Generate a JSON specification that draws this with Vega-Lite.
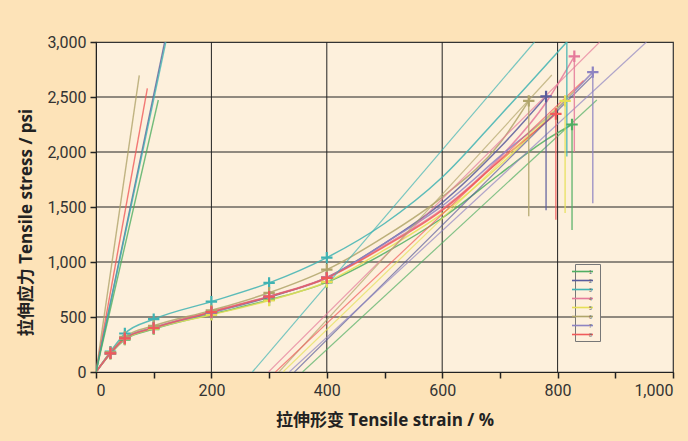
{
  "$schema": "https://vega.github.io/schema/vega-lite/v6.json",
  "autosize": "none",
  "width": 577,
  "height": 330,
  "padding": {"left": 96, "top": 42, "right": 15, "bottom": 69},
  "background": "#fde3b8",
  "config": {
    "view": {"fill": "#fdf0dc", "stroke": "#333", "strokeWidth": 1.2},
    "axis": {"grid": false, "labelFont": "Roboto", "labelFontSize": 16, "labelColor": "#333", "titleFont": "Open Sans, Noto Sans CJK SC", "titleFontSize": 17, "titleFontWeight": "bold", "titleColor": "#222", "domainColor": "#222", "tickColor": "#222", "tickSize": 6, "tickWidth": 1.5},
    "legend": {"orient": "none", "legendX": 479, "legendY": 222, "symbolType": "M-3,0H3", "symbolSize": 49, "symbolStrokeWidth": 1.6, "symbolOpacity": 1, "labelFontSize": 5, "labelColor": "#666", "rowPadding": 1, "padding": 3, "strokeColor": "#777", "fillColor": "#fdf0dc", "labelOffset": 2}
  },
  "data": {"values": [
    {"k":"gx","x":200},{"k":"gx","x":400},{"k":"gx","x":600},{"k":"gx","x":800},
    {"k":"gy","y":500},{"k":"gy","y":1000},{"k":"gy","y":1500},{"k":"gy","y":2000},{"k":"gy","y":2500},
    {"k":"f","s":"1","x":358,"y":0},{"k":"f","s":"1","x":868,"y":2473},
    {"k":"f","s":"2","x":344,"y":0},{"k":"f","s":"2","x":862,"y":2700},
    {"k":"f","s":"3","x":271,"y":0},{"k":"f","s":"3","x":760,"y":3000},
    {"k":"f","s":"4","x":299,"y":0},{"k":"f","s":"4","x":873,"y":3000},
    {"k":"f","s":"5","x":324,"y":0},{"k":"f","s":"5","x":830,"y":2560},
    {"k":"f","s":"6","x":317,"y":0},{"k":"f","s":"6","x":790,"y":2700},
    {"k":"f","s":"7","x":335,"y":0},{"k":"f","s":"7","x":954,"y":3000},
    {"k":"f","s":"8","x":311,"y":0},{"k":"f","s":"8","x":845,"y":2650},
    {"k":"i","s":"6","x":0,"y":0},{"k":"i","s":"6","x":75,"y":2697},
    {"k":"i","s":"8","x":0,"y":0},{"k":"i","s":"8","x":89,"y":2579},
    {"k":"i","s":"2","x":0,"y":0},{"k":"i","s":"2","x":119,"y":3000},
    {"k":"i","s":"3","x":0,"y":0},{"k":"i","s":"3","x":121,"y":3000},
    {"k":"i","s":"1","x":0,"y":0},{"k":"i","s":"1","x":108,"y":2473},
    {"k":"d","s":"1","x":825,"y":2250},{"k":"d","s":"1","x":825,"y":1290},
    {"k":"d","s":"2","x":780,"y":2505},{"k":"d","s":"2","x":780,"y":1470},
    {"k":"d","s":"3","x":816,"y":3000},{"k":"d","s":"3","x":816,"y":1960},
    {"k":"d","s":"4","x":829,"y":2870},{"k":"d","s":"4","x":829,"y":2000},
    {"k":"d","s":"5","x":813,"y":2465},{"k":"d","s":"5","x":813,"y":1445},
    {"k":"d","s":"6","x":750,"y":2465},{"k":"d","s":"6","x":750,"y":1415},
    {"k":"d","s":"7","x":861,"y":2726},{"k":"d","s":"7","x":861,"y":1535},
    {"k":"d","s":"8","x":797,"y":2346},{"k":"d","s":"8","x":797,"y":1383},

    {"k":"c","s":"1","x":0,"y":0,"m":0},{"k":"c","s":"1","x":25,"y":165,"m":1},{"k":"c","s":"1","x":50,"y":295,"m":1},{"k":"c","s":"1","x":100,"y":390,"m":1},{"k":"c","s":"1","x":200,"y":525,"m":1},{"k":"c","s":"1","x":300,"y":655,"m":1},{"k":"c","s":"1","x":400,"y":815,"m":1},{"k":"c","s":"1","x":500,"y":1080,"m":0},{"k":"c","s":"1","x":600,"y":1400,"m":0},{"k":"c","s":"1","x":700,"y":1800,"m":0},{"k":"c","s":"1","x":780,"y":2110,"m":0},{"k":"c","s":"1","x":825,"y":2250,"m":1},
    {"k":"c","s":"2","x":0,"y":0,"m":0},{"k":"c","s":"2","x":25,"y":170,"m":1},{"k":"c","s":"2","x":50,"y":305,"m":1},{"k":"c","s":"2","x":100,"y":400,"m":1},{"k":"c","s":"2","x":200,"y":540,"m":1},{"k":"c","s":"2","x":300,"y":680,"m":1},{"k":"c","s":"2","x":400,"y":860,"m":1},{"k":"c","s":"2","x":500,"y":1170,"m":0},{"k":"c","s":"2","x":600,"y":1540,"m":0},{"k":"c","s":"2","x":700,"y":2040,"m":0},{"k":"c","s":"2","x":780,"y":2505,"m":1},
    {"k":"c","s":"3","x":0,"y":0,"m":0},{"k":"c","s":"3","x":25,"y":185,"m":1},{"k":"c","s":"3","x":50,"y":350,"m":1},{"k":"c","s":"3","x":100,"y":480,"m":1},{"k":"c","s":"3","x":200,"y":640,"m":1},{"k":"c","s":"3","x":300,"y":810,"m":1},{"k":"c","s":"3","x":400,"y":1040,"m":1},{"k":"c","s":"3","x":500,"y":1350,"m":0},{"k":"c","s":"3","x":600,"y":1770,"m":0},{"k":"c","s":"3","x":700,"y":2330,"m":0},{"k":"c","s":"3","x":816,"y":3000,"m":0},
    {"k":"c","s":"4","x":0,"y":0,"m":0},{"k":"c","s":"4","x":25,"y":172,"m":1},{"k":"c","s":"4","x":50,"y":310,"m":1},{"k":"c","s":"4","x":100,"y":405,"m":1},{"k":"c","s":"4","x":200,"y":550,"m":1},{"k":"c","s":"4","x":300,"y":690,"m":1},{"k":"c","s":"4","x":400,"y":860,"m":1},{"k":"c","s":"4","x":500,"y":1150,"m":0},{"k":"c","s":"4","x":600,"y":1480,"m":0},{"k":"c","s":"4","x":700,"y":1950,"m":0},{"k":"c","s":"4","x":780,"y":2450,"m":0},{"k":"c","s":"4","x":829,"y":2870,"m":1},
    {"k":"c","s":"5","x":0,"y":0,"m":0},{"k":"c","s":"5","x":25,"y":168,"m":1},{"k":"c","s":"5","x":50,"y":300,"m":1},{"k":"c","s":"5","x":100,"y":395,"m":1},{"k":"c","s":"5","x":200,"y":520,"m":1},{"k":"c","s":"5","x":300,"y":650,"m":1},{"k":"c","s":"5","x":400,"y":820,"m":1},{"k":"c","s":"5","x":500,"y":1110,"m":0},{"k":"c","s":"5","x":600,"y":1440,"m":0},{"k":"c","s":"5","x":700,"y":1880,"m":0},{"k":"c","s":"5","x":813,"y":2465,"m":1},
    {"k":"c","s":"6","x":0,"y":0,"m":0},{"k":"c","s":"6","x":25,"y":180,"m":1},{"k":"c","s":"6","x":50,"y":320,"m":1},{"k":"c","s":"6","x":100,"y":420,"m":1},{"k":"c","s":"6","x":200,"y":560,"m":1},{"k":"c","s":"6","x":300,"y":720,"m":1},{"k":"c","s":"6","x":400,"y":930,"m":1},{"k":"c","s":"6","x":500,"y":1230,"m":0},{"k":"c","s":"6","x":600,"y":1590,"m":0},{"k":"c","s":"6","x":700,"y":2080,"m":0},{"k":"c","s":"6","x":750,"y":2465,"m":1},
    {"k":"c","s":"7","x":0,"y":0,"m":0},{"k":"c","s":"7","x":25,"y":170,"m":1},{"k":"c","s":"7","x":50,"y":305,"m":1},{"k":"c","s":"7","x":100,"y":400,"m":1},{"k":"c","s":"7","x":200,"y":540,"m":1},{"k":"c","s":"7","x":300,"y":685,"m":1},{"k":"c","s":"7","x":400,"y":855,"m":1},{"k":"c","s":"7","x":500,"y":1170,"m":0},{"k":"c","s":"7","x":600,"y":1510,"m":0},{"k":"c","s":"7","x":700,"y":1960,"m":0},{"k":"c","s":"7","x":800,"y":2400,"m":0},{"k":"c","s":"7","x":861,"y":2726,"m":1},
    {"k":"c","s":"8","x":0,"y":0,"m":0},{"k":"c","s":"8","x":25,"y":170,"m":1},{"k":"c","s":"8","x":50,"y":305,"m":1},{"k":"c","s":"8","x":100,"y":400,"m":1},{"k":"c","s":"8","x":200,"y":545,"m":1},{"k":"c","s":"8","x":300,"y":685,"m":1},{"k":"c","s":"8","x":400,"y":855,"m":1},{"k":"c","s":"8","x":500,"y":1140,"m":0},{"k":"c","s":"8","x":600,"y":1470,"m":0},{"k":"c","s":"8","x":700,"y":1920,"m":0},{"k":"c","s":"8","x":797,"y":2346,"m":1}
  ]},
  "layer": [
    {"transform": [{"filter": "datum.k === 'gx'"}], "mark": {"type": "rule", "color": "#222", "strokeWidth": 1},
      "encoding": {"x": {"field": "x", "type": "quantitative", "scale": {"domain": [0, 1000], "nice": false},
        "axis": {"values": [0,100,200,300,400,500,600,700,800,900,1000], "format": ",d", "labelExpr": "datum.value % 200 === 0 ? datum.label : ''", "title": "拉伸形变 Tensile strain / %", "titleY": 40, "labelPadding": 4}}}},
    {"transform": [{"filter": "datum.k === 'gy'"}], "mark": {"type": "rule", "color": "#222", "strokeWidth": 1},
      "encoding": {"y": {"field": "y", "type": "quantitative", "scale": {"domain": [0, 3000], "nice": false},
        "axis": {"values": [0,250,500,750,1000,1250,1500,1750,2000,2250,2500,2750,3000], "format": ",d", "labelExpr": "datum.value % 500 === 0 ? datum.label : ''", "title": "拉伸应力 Tensile stress / psi", "titleX": -61, "titleY": 180, "labelPadding": 4}}}},
    {"transform": [{"filter": "datum.k === 'c'"}], "mark": {"type": "line", "strokeWidth": 1.5, "opacity": 0.85, "clip": true, "interpolate": "monotone"},
      "encoding": {"x": {"field": "x", "type": "quantitative"}, "y": {"field": "y", "type": "quantitative"}, "detail": {"field": "s"},
        "color": {"field": "s", "type": "nominal", "scale": {"domain": ["1","2","3","4","5","6","7","8"], "range": ["#4fae62","#5a5c9c","#3fb3b3","#e57a9a","#e6df55","#b0a46a","#8e84c2","#f05a5a"]}, "legend": {"title": null}}}},
    {"transform": [{"filter": "datum.k === 'f'"}], "mark": {"type": "line", "strokeWidth": 1.2, "opacity": 0.7, "clip": true},
      "encoding": {"x": {"field": "x", "type": "quantitative"}, "y": {"field": "y", "type": "quantitative"}, "detail": {"field": "s"}, "color": {"field": "s", "type": "nominal"}}},
    {"transform": [{"filter": "datum.k === 'i'"}], "mark": {"type": "line", "strokeWidth": 1.4, "opacity": 0.8, "clip": true},
      "encoding": {"x": {"field": "x", "type": "quantitative"}, "y": {"field": "y", "type": "quantitative"}, "detail": {"field": "s"}, "color": {"field": "s", "type": "nominal"}}},
    {"transform": [{"filter": "datum.k === 'd'"}], "mark": {"type": "line", "strokeWidth": 1.4, "opacity": 0.85, "clip": true},
      "encoding": {"x": {"field": "x", "type": "quantitative"}, "y": {"field": "y", "type": "quantitative"}, "detail": {"field": "s"}, "color": {"field": "s", "type": "nominal"}}},
    {"transform": [{"filter": "datum.k === 'c' && datum.m === 1"}], "mark": {"type": "point", "shape": "M-1,0L1,0M0,-1L0,1", "filled": false, "size": 130, "strokeWidth": 2.2, "opacity": 1, "clip": true},
      "encoding": {"x": {"field": "x", "type": "quantitative"}, "y": {"field": "y", "type": "quantitative"}, "color": {"field": "s", "type": "nominal"}}}
  ]
}
